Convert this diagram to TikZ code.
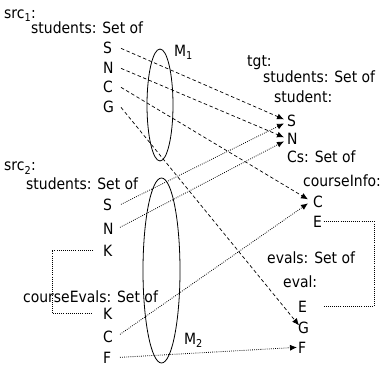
\documentclass[tikz,border=0pt]{standalone}
\usepackage{fontspec}
\setmainfont{DejaVu Sans Condensed}
\usetikzlibrary{arrows.meta,shapes.geometric}
\begin{document}
\begin{tikzpicture}[x=1pt,y=-1pt,
  lbl/.style={anchor=base west, inner sep=0pt, font=\fontsize{15.5}{18}\selectfont},
  mapa/.style={dash pattern=on 3.5pt off 2.5pt, line width=0.7pt, -{Latex[length=7pt,width=6pt]}},
  mapb/.style={dash pattern=on 0.8pt off 1.3pt, line width=0.8pt, -{Latex[length=7pt,width=6pt]}},
  link/.style={dash pattern=on 0.8pt off 1.3pt, line width=0.8pt},
  mapping/.style={draw, ellipse, inner sep=0pt, line width=0.8pt}]
\useasboundingbox (0,0) rectangle (385,371);
% source 1
\node[lbl] (src1) at (4,19) {src\textsubscript{1}:};
\node[lbl] (s1set) at (31,34) {students: Set of};
\node[lbl] (s1S) at (103,54) {S};
\node[lbl] (s1N) at (103,74) {N};
\node[lbl] (s1C) at (103,93) {C};
\node[lbl] (s1G) at (103,113) {G};
% source 2
\node[lbl] (src2) at (4,171) {src\textsubscript{2}:};
\node[lbl] (s2set) at (26,190) {students: Set of};
\node[lbl] (s2S) at (103,211) {S};
\node[lbl] (s2N) at (103,235) {N};
\node[lbl] (s2K) at (103,256) {K};
\node[lbl] (ceset) at (23,302) {courseEvals: Set of};
\node[lbl] (ceK) at (103,319) {K};
\node[lbl] (ceC) at (103,342) {C};
\node[lbl] (ceF) at (103,363) {F};
% target
\node[lbl] (tgt) at (247,67) {tgt:};
\node[lbl] (tset) at (263,83) {students: Set of};
\node[lbl] (tstu) at (274,103) {student:};
\node[lbl] (tS) at (287,127) {S};
\node[lbl] (tN) at (287,145) {N};
\node[lbl] (tCs) at (287,163) {Cs: Set of};
\node[lbl] (tci) at (303,187) {courseInfo:};
\node[lbl] (tC) at (313,208) {C};
\node[lbl] (tE) at (313,227) {E};
\node[lbl] (tev) at (267,263) {evals: Set of};
\node[lbl] (teval) at (283,287) {eval:};
\node[lbl] (tE2) at (298,312) {E};
\node[lbl] (tG) at (298,333) {G};
\node[lbl] (tF) at (298,353) {F};
% mappings
\node[mapping, minimum width=26pt, minimum height=112pt] (m1) at (160,105) {};
\node[mapping, minimum width=37pt, minimum height=185pt] (m2) at (161.5,270.5) {};
\node[lbl] (m1l) at (174,57) {M\textsubscript{1}};
\node[lbl] (m2l) at (184,344) {M\textsubscript{2}};
% M1 correspondences
\draw[mapa] ([xshift=18pt]s1S.west) -- ([xshift=-3pt,yshift=2pt]tS.west);
\draw[mapa] ([xshift=18pt]s1N.west) -- ([xshift=-3pt,yshift=2pt]tN.west);
\draw[mapa] ([xshift=18pt]s1C.west) -- ([xshift=-5pt,yshift=3pt]tC.west);
\draw[mapa] ([xshift=18pt]s1G.west) -- ([xshift=1pt,yshift=2pt]tG.west);
% M2 correspondences
\draw[mapb] ([xshift=18pt,yshift=1pt]s2S.west) -- ([xshift=-3pt,yshift=-2pt]tS.west);
\draw[mapb] ([xshift=17pt,yshift=2pt]s2N.west) -- ([xshift=-3pt,yshift=-2pt]tN.west);
\draw[mapb] ([xshift=17pt,yshift=2pt]ceC.west) -- ([xshift=-5pt,yshift=-1pt]tC.west);
\draw[mapb] ([xshift=17pt]ceF.west) -- ([xshift=-1pt]tF.west);
% key links
\draw[link] ([xshift=-10pt]s2K.west) -- ++(-41,0) |- ([xshift=-12pt]ceK.west);
\draw[link] ([xshift=1.5pt]tE.east) -| ([xshift=76pt]tE2.west) -- ([xshift=25pt]tE2.west);
\end{tikzpicture}
\end{document}
